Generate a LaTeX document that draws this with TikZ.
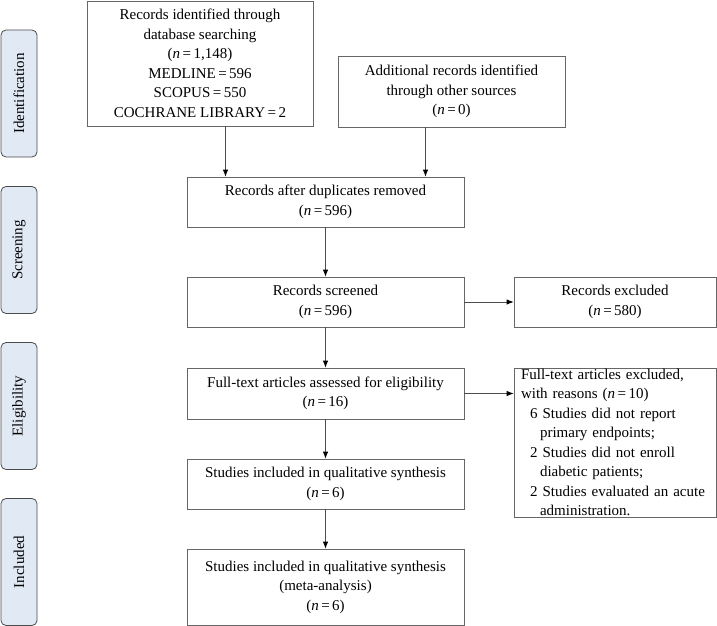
\documentclass[tikz,border=0pt]{standalone}
\usepackage{fontspec}
\setmainfont{Liberation Serif}
\usetikzlibrary{arrows.meta}
\definecolor{phasefill}{RGB}{225,233,245}

\begin{document}
\begin{tikzpicture}[x=1pt,y=-1pt,
  box/.style={draw=black!60,line width=0.8pt,align=center,inner sep=0pt,font=\fontsize{15}{19.5}\selectfont},
  phase/.style={draw=black!70,fill=phasefill,line width=0.8pt,rounded corners=5pt,minimum width=36pt,minimum height=127pt,inner sep=0pt},
  arr/.style={draw=black!70,line width=0.8pt,-{Latex[length=7pt,width=5.5pt,black]}}]
  \useasboundingbox (0,0) rectangle (717,626);
  % phases
  \node[phase] (id) at (19,93.5) {};
  \node[rotate=90,font=\fontsize{15}{16}\selectfont] at (id) {Identification};
  \node[phase] (sc) at (19,250) {};
  \node[rotate=90,font=\fontsize{15}{16}\selectfont] at (sc) {Screening};
  \node[phase] (el) at (19,406) {};
  \node[rotate=90,font=\fontsize{15}{16}\selectfont] at (el) {Eligibility};
  \node[phase] (in) at (19,562) {};
  \node[rotate=90,font=\fontsize{15}{16}\selectfont] at (in) {Included};
  % boxes
  \node[box,minimum width=226pt,minimum height=125pt] (db) at (200,63.5) {Records identified through\\database searching\\(\textit{n}\,=\,1,148)\\MEDLINE\,=\,596\\SCOPUS\,=\,550\\COCHRANE LIBRARY\,=\,2};
  \node[box,minimum width=227pt,minimum height=71pt] (other) at (451.5,91.5) {Additional records identified\\through other sources\\(\textit{n}\,=\,0)};
  \node[box,minimum width=277pt,minimum height=50pt] (dup) at (325.5,202) {Records after duplicates removed\\(\textit{n}\,=\,596)};
  \node[box,minimum width=277pt,minimum height=50pt] (scr) at (325.5,302) {Records screened\\(\textit{n}\,=\,596)};
  \node[box,minimum width=202pt,minimum height=50pt] (exc) at (615,302) {Records excluded\\(\textit{n}\,=\,580)};
  \node[box,minimum width=277pt,minimum height=51pt] (full) at (325.5,393.5) {Full-text articles assessed for eligibility\\(\textit{n}\,=\,16)};
  \node[box,minimum width=202pt,minimum height=149pt,align=left,text width=188pt] (fexc) at (615,442.5) {Full-text articles excluded,\\with reasons (\textit{n}\,=\,10)\\
    \hspace*{9pt}6 Studies did not report\\\hspace*{19pt}primary endpoints;\\
    \hspace*{9pt}2 Studies did not enroll\\\hspace*{19pt}diabetic patients;\\
    \hspace*{9pt}2 Studies evaluated an acute\\\hspace*{19pt}administration.};
  \node[box,minimum width=277pt,minimum height=50pt] (qual) at (325.5,484) {Studies included in qualitative synthesis\\(\textit{n}\,=\,6)};
  \node[box,minimum width=277pt,minimum height=76pt] (meta) at (325.5,587) {Studies included in qualitative synthesis\\(meta-analysis)\\(\textit{n}\,=\,6)};
  % arrows
  \draw[arr] ([xshift=-100pt]dup.north |- db.south) -- ([xshift=-100pt]dup.north);
  \draw[arr] ([xshift=100pt]dup.north |- other.south) -- ([xshift=100pt]dup.north);
  \draw[arr] (dup) -- (scr);
  \draw[arr] (scr) -- (exc);
  \draw[arr] (scr) -- (full);
  \draw[arr] (full.east) -- (full.east -| fexc.west);
  \draw[arr] (full) -- (qual);
  \draw[arr] (qual) -- (meta);
\end{tikzpicture}
\end{document}
